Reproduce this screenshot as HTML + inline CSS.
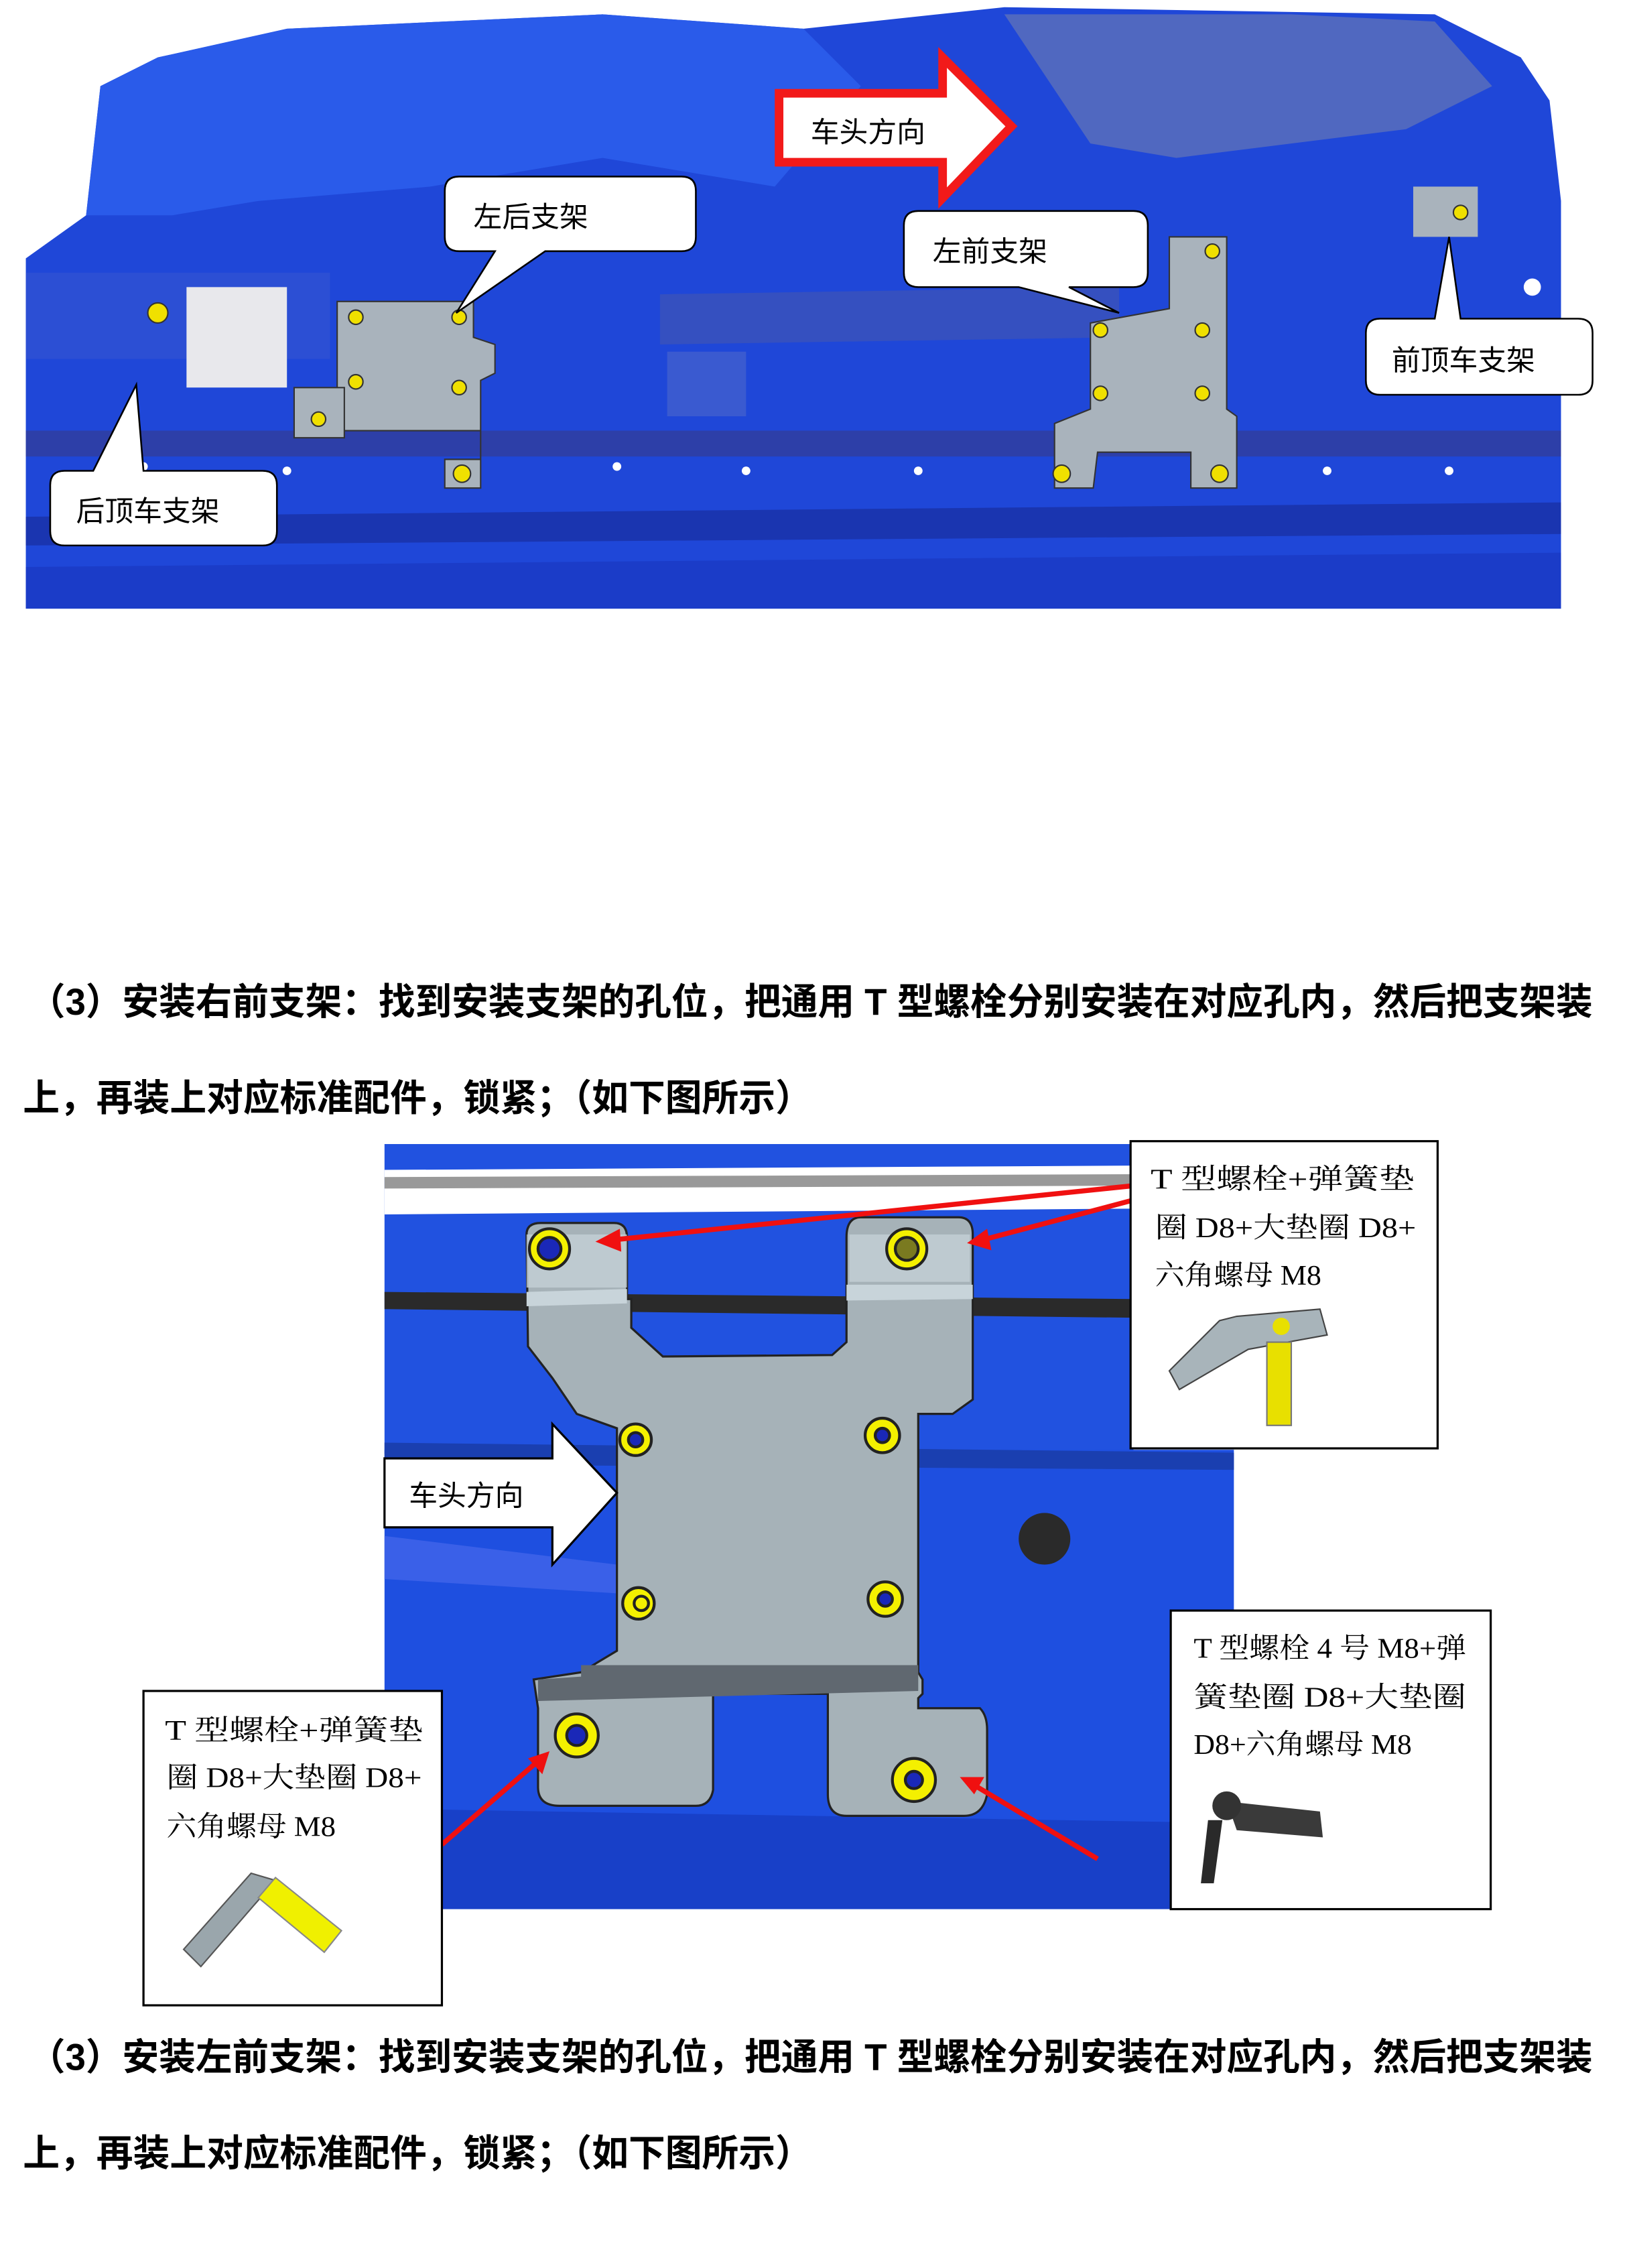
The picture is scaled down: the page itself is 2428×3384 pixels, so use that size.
<!DOCTYPE html>
<html><head><meta charset="utf-8"><style>
html,body{margin:0;padding:0;background:#fff;}
svg{display:block;}
.cb{font-family:"Liberation Sans","Noto Sans CJK SC",sans-serif;font-size:20px;fill:#000;}
.sf{font-family:"Liberation Serif","Noto Serif CJK SC",serif;font-size:20px;fill:#000;}
.bt{font-family:"Liberation Sans","Noto Sans CJK SC",sans-serif;font-size:26px;font-weight:bold;fill:#000;}
</style></head><body>
<svg width="2428" height="3384" viewBox="0 0 1134 1580" preserveAspectRatio="none" xmlns="http://www.w3.org/2000/svg">
<rect width="1134" height="1580" fill="#fff"/>
<!-- TOP IMAGE -->
<path d="M18 424 L18 180 L60 150 L70 60 L110 40 L200 20 L420 10 L560 20 L700 5 L1000 10 L1060 40 L1080 70 L1088 140 L1088 424 Z" fill="#1f47d8"/>
<path d="M60 150 L70 60 L110 40 L200 20 L420 10 L560 20 L600 60 L540 130 L420 110 L300 130 L180 140 L120 150 Z" fill="#2a5bea"/>
<path d="M700 10 L900 10 L1000 15 L1040 60 L980 90 L900 100 L820 110 L760 100 Z" fill="#5068c0"/>
<path d="M18 300 L1088 300 L1088 318 L18 318 Z" fill="#2d3fa8"/>
<path d="M18 360 L1088 350 L1088 372 L18 380 Z" fill="#1a35b0"/>
<path d="M18 395 L1088 385 L1088 424 L18 424 Z" fill="#1b3cc8"/>
<path d="M460 205 L780 200 L780 235 L460 240 Z" fill="#3550c0"/>
<path d="M18 190 L230 190 L230 250 L18 250 Z" fill="#2c4fd4"/>
<path d="M130 200 L200 200 L200 270 L130 270 Z" fill="#e8e8ec"/>
<path d="M465 245 L520 245 L520 290 L465 290 Z" fill="#3a5ad0"/>
<rect x="985" y="130" width="45" height="35" fill="#a9b3bc"/>
<!-- left bracket -->
<path d="M235 210 L330 210 L330 235 L345 240 L345 260 L335 265 L335 320 L310 320 L310 340 L335 340 L335 300 L300 300 L300 300 L235 300 Z" fill="#a9b3bc" stroke="#333" stroke-width="1"/>
<path d="M205 270 L240 270 L240 305 L205 305 Z" fill="#a9b3bc" stroke="#333"/>
<!-- right bracket -->
<path d="M815 165 L855 165 L855 285 L862 290 L862 340 L830 340 L830 315 L765 315 L762 340 L735 340 L735 295 L760 285 L760 225 L815 215 Z" fill="#a9b3bc" stroke="#333" stroke-width="1"/>
<g fill="#f0e000" stroke="#333" stroke-width="1">
<circle cx="248" cy="221" r="5"/><circle cx="320" cy="221" r="5"/><circle cx="248" cy="266" r="5"/><circle cx="320" cy="270" r="5"/><circle cx="322" cy="330" r="6"/><circle cx="222" cy="292" r="5"/>
<circle cx="845" cy="175" r="5"/><circle cx="767" cy="230" r="5"/><circle cx="838" cy="230" r="5"/><circle cx="767" cy="274" r="5"/><circle cx="838" cy="274" r="5"/><circle cx="740" cy="330" r="6"/><circle cx="850" cy="330" r="6"/><circle cx="1018" cy="148" r="5"/><circle cx="110" cy="218" r="7"/>
</g>
<g fill="#fff"><circle cx="100" cy="325" r="3"/><circle cx="200" cy="328" r="3"/><circle cx="430" cy="325" r="3"/><circle cx="520" cy="328" r="3"/><circle cx="640" cy="328" r="3"/><circle cx="925" cy="328" r="3"/><circle cx="1010" cy="328" r="3"/><circle cx="1068" cy="200" r="6"/></g>
<!-- red arrow -->
<path d="M543 65 L657 65 L657 40 L705 88 L657 138 L657 113 L543 113 Z" fill="#fff" stroke="#f21a1a" stroke-width="6" stroke-linejoin="miter"/>
<text class="cb" x="565" y="99">车头方向</text>
<!-- callouts -->
<path d="M320 123 L475 123 Q485 123 485 133 L485 165 Q485 175 475 175 L380 175 L318 218 L345 175 L320 175 Q310 175 310 165 L310 133 Q310 123 320 123 Z" fill="#fff" stroke="#000" stroke-width="1.2"/>
<text class="cb" x="330" y="158">左后支架</text>
<path d="M640 147 L790 147 Q800 147 800 157 L800 190 Q800 200 790 200 L745 200 L780 218 L710 200 L640 200 Q630 200 630 190 L630 157 Q630 147 640 147 Z" fill="#fff" stroke="#000" stroke-width="1.2"/>
<text class="cb" x="650" y="182">左前支架</text>
<path d="M962 222 L1000 222 L1010 165 L1018 222 L1100 222 Q1110 222 1110 232 L1110 265 Q1110 275 1100 275 L962 275 Q952 275 952 265 L952 232 Q952 222 962 222 Z" fill="#fff" stroke="#000" stroke-width="1.2"/>
<text class="cb" x="970" y="258">前顶车支架</text>
<path d="M45 328 L65 328 L95 268 L100 328 L183 328 Q193 328 193 338 L193 370 Q193 380 183 380 L45 380 Q35 380 35 370 L35 338 Q35 328 45 328 Z" fill="#fff" stroke="#000" stroke-width="1.2"/>
<text class="cb" x="53" y="363">后顶车支架</text>
<!-- TEXT -->
<text class="bt" x="20" y="707" textLength="1090" lengthAdjust="spacingAndGlyphs">（3）安装右前支架：找到安装支架的孔位，把通用 T 型螺栓分别安装在对应孔内，然后把支架装</text>
<text class="bt" x="16" y="774" textLength="550" lengthAdjust="spacingAndGlyphs">上，再装上对应标准配件，锁紧；（如下图所示）</text>
<!-- SECOND IMAGE -->
<rect x="268" y="797" width="522" height="216" fill="#2152e0"/>
<rect x="268" y="1010" width="592" height="320" fill="#1e4fe0"/>
<path d="M268 815 L790 812 L790 842 L268 846 Z" fill="#fff"/>
<path d="M268 820 L790 818 L790 826 L268 828 Z" fill="#333" opacity=".5"/>
<path d="M268 900 L790 905 L790 918 L268 912 Z" fill="#2a2a2a"/>
<path d="M268 1005 L860 1012 L860 1024 L268 1020 Z" fill="#1a3fb0"/>
<path d="M268 1070 L430 1090 L430 1110 L268 1100 Z" fill="#3a60e8"/>
<path d="M268 1260 L860 1270 L860 1330 L268 1330 Z" fill="#1840c8"/>
<circle cx="728" cy="1072" r="18" fill="#2a2a2a"/>
<!-- bracket -->
<path d="M367 860 Q367 852 377 852 L428 852 Q437 852 437 862 L437 905 L440 905 L440 925 L462 945 L580 944 L590 935 L590 862 Q590 848 600 848 L668 848 Q678 848 678 860 L678 975 L664 985 L640 985 L640 1165 L643 1170 L643 1180 L640 1183 L640 1190 L683 1190 Q688 1195 688 1205 L688 1250 Q685 1265 672 1265 L590 1265 Q577 1265 577 1250 L577 1180 L497 1180 L497 1247 Q495 1258 485 1258 L390 1258 Q375 1258 375 1245 L375 1190 L372 1170 L405 1165 L430 1150 L430 995 L402 985 L385 960 L368 938 Z" fill="#a6b2b8" stroke="#222" stroke-width="1.5"/>
<path d="M367 900 L437 898 L437 908 L367 910 Z M590 895 L678 895 L678 905 L590 906 Z" fill="#c8d4da"/>
<path d="M367 860 L437 860 L437 897 L367 897 Z M592 860 L676 860 L676 893 L592 893 Z" fill="#c4d0d6" opacity=".8"/>
<path d="M405 1160 L640 1160 L640 1178 L375 1185 L375 1170 L405 1168 Z" fill="#606870"/>
<g stroke="#222" stroke-width="2">
<circle cx="383" cy="870" r="14" fill="#f4f000"/><circle cx="383" cy="870" r="8" fill="#1a28b8"/>
<circle cx="632" cy="870" r="14" fill="#f4f000"/><circle cx="632" cy="870" r="8" fill="#7a7a20"/>
<circle cx="443" cy="1003" r="11" fill="#f4f000"/><circle cx="443" cy="1003" r="5" fill="#1a28b8"/>
<circle cx="615" cy="1000" r="12" fill="#f4f000"/><circle cx="615" cy="1000" r="5" fill="#1a28b8"/>
<circle cx="445" cy="1117" r="11" fill="#f4f000"/><circle cx="447" cy="1117" r="5" fill="#f4f000"/>
<circle cx="617" cy="1114" r="12" fill="#f4f000"/><circle cx="617" cy="1114" r="5" fill="#1a28b8"/>
<circle cx="402" cy="1209" r="15" fill="#f4f000"/><circle cx="402" cy="1209" r="7" fill="#1a28b8"/>
<circle cx="637" cy="1240" r="15" fill="#f4f000"/><circle cx="637" cy="1240" r="6" fill="#1a28b8"/>
</g>
<!-- white arrow -->
<path d="M268 1016 L385 1016 L385 992 L430 1040 L385 1090 L385 1064 L268 1064 Z" fill="#fff" stroke="#000" stroke-width="1.5"/>
<text class="cb" x="285" y="1049">车头方向</text>
<!-- red leader lines -->
<g stroke="#f01010" stroke-width="3.5" fill="#f01010">
<line x1="790" y1="826" x2="425" y2="864"/><polygon points="415,865 432,856 433,872" stroke="none"/>
<line x1="790" y1="836" x2="684" y2="864"/><polygon points="674,866 688,856 691,871" stroke="none"/>
<line x1="308" y1="1285" x2="376" y2="1226"/><polygon points="383,1220 378,1236 368,1225" stroke="none"/>
<line x1="765" y1="1295" x2="678" y2="1243"/><polygon points="669,1238 686,1238 679,1250" stroke="none"/>
</g>
<!-- callout box 1 -->
<rect x="788" y="795" width="214" height="214" fill="#fff" stroke="#000" stroke-width="1.5"/>
<text class="sf" x="802" y="828" textLength="184" lengthAdjust="spacingAndGlyphs">T 型螺栓+弹簧垫</text>
<text class="sf" x="805" y="862" textLength="182" lengthAdjust="spacingAndGlyphs">圈 D8+大垫圈 D8+</text>
<text class="sf" x="805" y="895" textLength="116" lengthAdjust="spacingAndGlyphs">六角螺母 M8</text>
<path d="M815 955 L850 920 L862 917 L920 912 L925 930 L870 940 L822 968 Z" fill="#a8b4ba" stroke="#444"/>
<rect x="883" y="935" width="17" height="58" fill="#e8e000" stroke="#777"/>
<circle cx="893" cy="924" r="6" fill="#e8e000"/>
<!-- callout box 2 -->
<rect x="816" y="1122" width="223" height="208" fill="#fff" stroke="#000" stroke-width="1.5"/>
<text class="sf" x="832" y="1155" textLength="190" lengthAdjust="spacingAndGlyphs">T 型螺栓 4 号 M8+弹</text>
<text class="sf" x="832" y="1189" textLength="190" lengthAdjust="spacingAndGlyphs">簧垫圈 D8+大垫圈</text>
<text class="sf" x="832" y="1222" textLength="152" lengthAdjust="spacingAndGlyphs">D8+六角螺母 M8</text>
<path d="M855 1255 L920 1262 L922 1280 L862 1275 Z" fill="#3a3a3a"/>
<path d="M842 1268 L852 1268 L846 1312 L837 1312 Z" fill="#2a2a2a"/>
<circle cx="855" cy="1258" r="10" fill="#333"/>
<!-- callout box 3 -->
<rect x="100" y="1178" width="208" height="219" fill="#fff" stroke="#000" stroke-width="1.5"/>
<text class="sf" x="115" y="1212" textLength="180" lengthAdjust="spacingAndGlyphs">T 型螺栓+弹簧垫</text>
<text class="sf" x="116" y="1245" textLength="178" lengthAdjust="spacingAndGlyphs">圈 D8+大垫圈 D8+</text>
<text class="sf" x="116" y="1279" textLength="118" lengthAdjust="spacingAndGlyphs">六角螺母 M8</text>
<path d="M128 1358 L175 1305 L192 1310 L140 1370 Z" fill="#9aa6ac" stroke="#555"/>
<path d="M180 1322 L192 1308 L238 1345 L226 1360 Z" fill="#f0f000" stroke="#888"/>
<!-- TEXT bottom -->
<text class="bt" x="20" y="1442" textLength="1090" lengthAdjust="spacingAndGlyphs">（3）安装左前支架：找到安装支架的孔位，把通用 T 型螺栓分别安装在对应孔内，然后把支架装</text>
<text class="bt" x="16" y="1509" textLength="550" lengthAdjust="spacingAndGlyphs">上，再装上对应标准配件，锁紧；（如下图所示）</text>
</svg>
</body></html>
